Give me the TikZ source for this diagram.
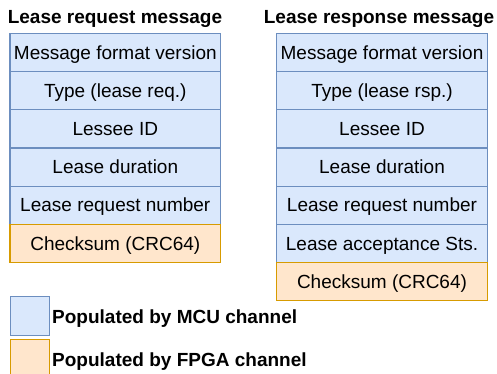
\documentclass[tikz,border=0pt]{standalone}
\usepackage{fontspec}
\setmainfont{Liberation Sans}
\definecolor{bfill}{HTML}{DAE8FC}
\definecolor{bline}{HTML}{6C8EBF}
\definecolor{ofill}{HTML}{FFE6CC}
\definecolor{oline}{HTML}{D79B00}
\tikzset{
  field/.style={draw=bline, fill=bfill, line width=1.2pt, minimum width=210.5pt, minimum height=38.2pt,
     inner sep=0pt, text height=17.2pt, text depth=4pt, font=\fontsize{19pt}{22pt}\selectfont},
  crcfield/.style={field, draw=oline, fill=ofill},
  title/.style={anchor=base, font=\fontsize{19pt}{22pt}\selectfont\bfseries, inner sep=0pt},
  legbox/.style={draw=bline, fill=bfill, line width=1.2pt, minimum width=39pt, minimum height=39pt, inner sep=0pt},
  legtext/.style={anchor=base west, font=\fontsize{19pt}{22pt}\selectfont\bfseries, inner sep=0pt}
}
\begin{document}
\begin{tikzpicture}[x=1pt,y=-1pt]
\path[use as bounding box] (0,0) rectangle (497,373);
\clip (0,0) rectangle (497,373);
\node[title] (t1) at (115,23) {Lease request message};
\node[title] (t2) at (379,23) {Lease response message};
% left column
\node[field] (a1) at (115.3,52.4) {Message format version};
\node[field] (a2) at (115.3,90.6) {Type (lease req.)};
\node[field] (a3) at (115.3,128.8) {Lessee ID};
\node[field] (a4) at (115.3,167.0) {Lease duration};
\node[field] (a5) at (115.3,205.2) {Lease request number};
\node[crcfield] (a6) at (115.3,243.4) {Checksum (CRC64)};
% right column
\node[field] (b1) at (382,52.4) {Message format version};
\node[field] (b2) at (382,90.6) {Type (lease rsp.)};
\node[field] (b3) at (382,128.8) {Lessee ID};
\node[field] (b4) at (382,167.0) {Lease duration};
\node[field] (b5) at (382,205.2) {Lease request number};
\node[field] (b6) at (382,243.4) {Lease acceptance Sts.};
\node[crcfield] (b7) at (382,281.6) {Checksum (CRC64)};
% legend
\node[legbox] (l1) at (30,316) {};
\node[legbox, draw=oline, fill=ofill] (l2) at (30,359) {};
\node[legtext] (lt1) at (52,323) {Populated by MCU channel};
\node[legtext] (lt2) at (52,366) {Populated by FPGA channel};
\end{tikzpicture}
\end{document}
